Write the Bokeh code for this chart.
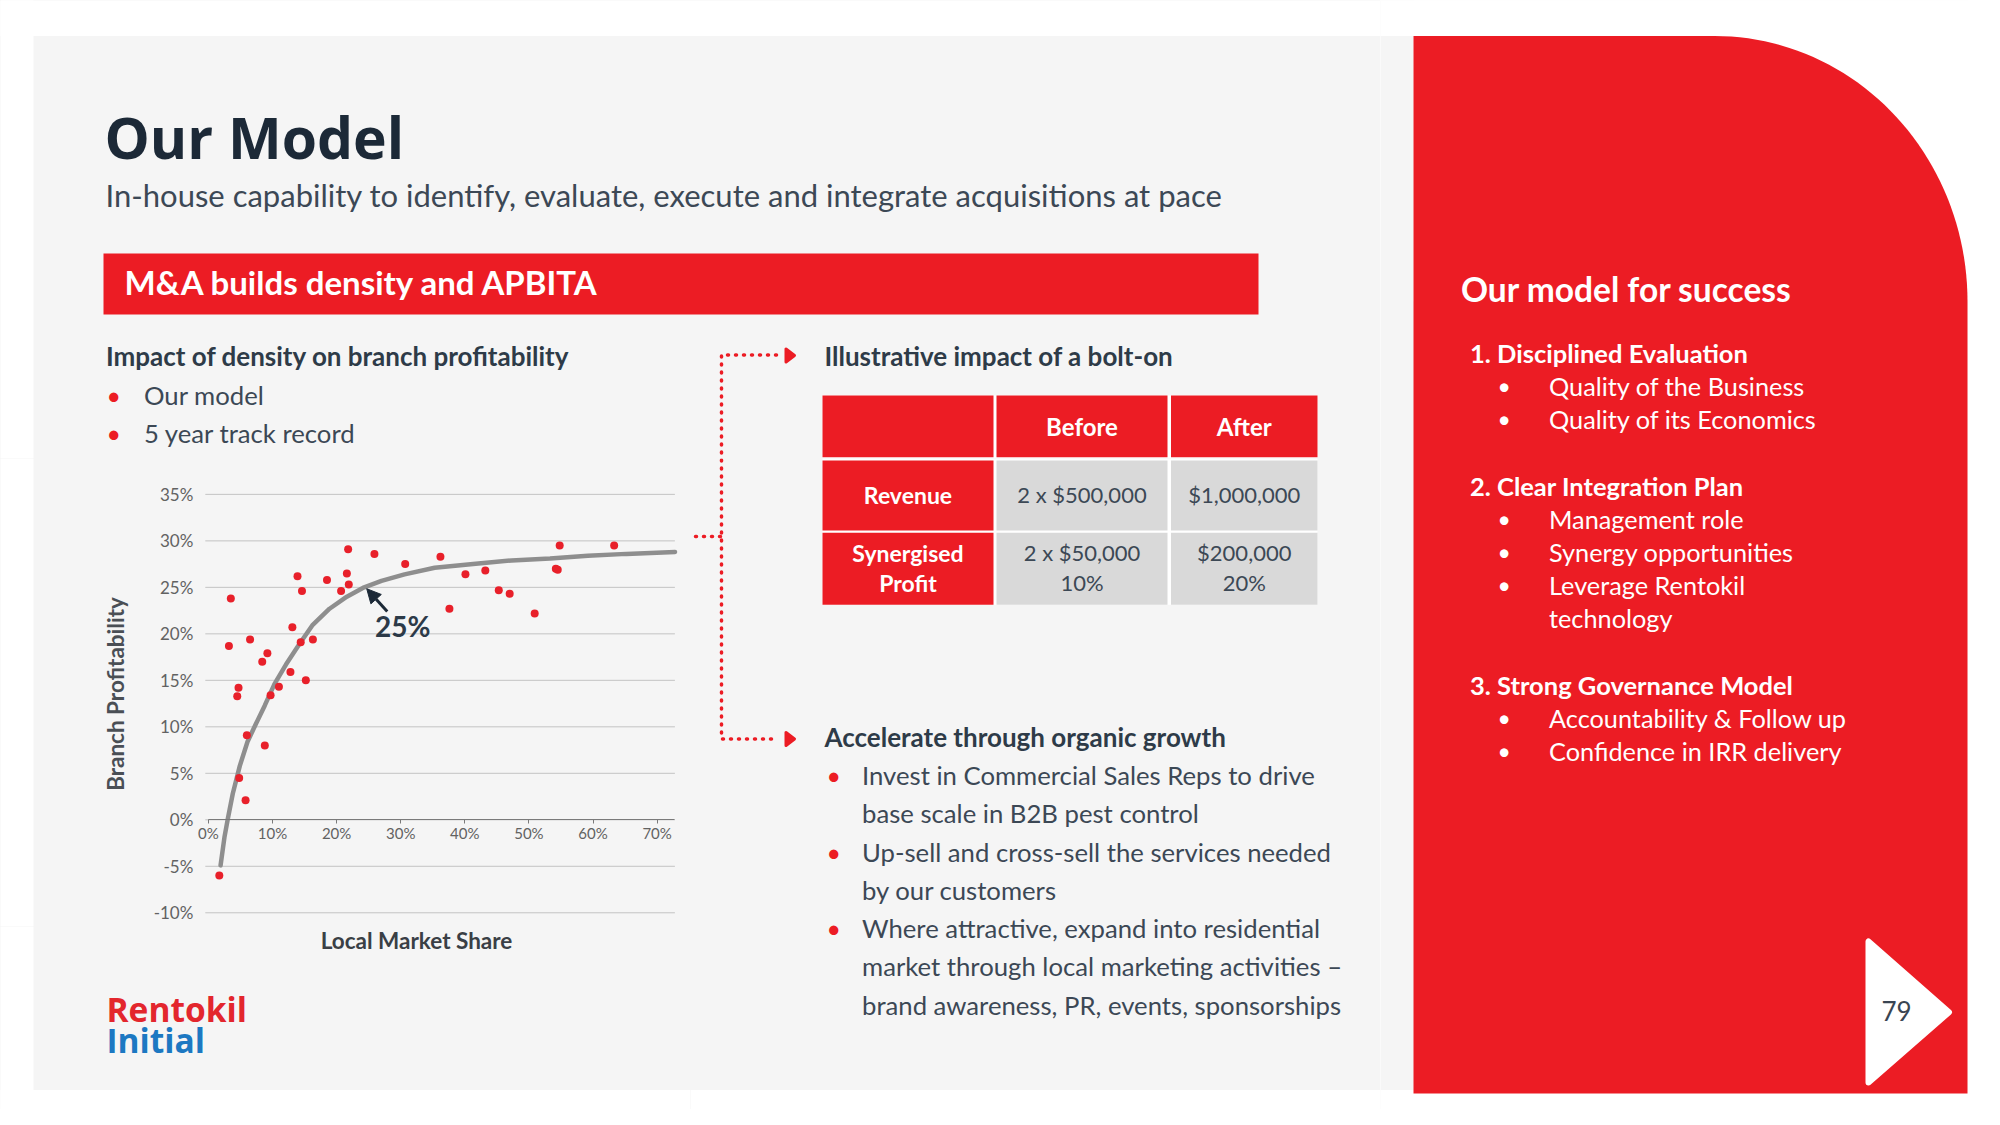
import numpy as np
from bokeh.plotting import figure
from bokeh.layouts import row, column
from bokeh.models import Range1d, FixedTicker, PrintfTickFormatter, Arrow, NormalHead
from bokeh.core.properties import value
from bokeh.embed import file_html
from bokeh.resources import INLINE

# ---------------- data ----------------
share = [1.7, 3.5, 3.2, 4.7, 4.5, 4.8, 5.8, 6.0, 6.5, 8.4, 8.8, 9.2, 9.7, 11.0, 12.8, 13.1,
         13.9, 14.4, 14.6, 15.2, 16.3, 18.5, 20.7, 21.6, 21.8, 21.9, 25.9, 30.7, 36.2, 37.6,
         40.1, 43.2, 45.3, 47.0, 50.9, 54.2, 54.5, 54.8, 63.3]
profit = [-6.0, 23.8, 18.7, 14.2, 13.3, 4.5, 2.1, 9.1, 19.4, 17.0, 8.0, 17.9, 13.4, 14.3, 15.9, 20.7,
          26.2, 19.1, 24.6, 15.0, 19.4, 25.8, 24.6, 26.5, 29.1, 25.3, 28.6, 27.5, 28.3, 22.7,
          26.4, 26.8, 24.7, 24.3, 22.2, 27.0, 26.9, 29.5, 29.5]
trend_x = [1.9, 2.5, 3.0, 3.8, 4.9, 6.1, 7.4, 8.8, 10.3, 12.1, 14.2, 16.2, 18.9, 21.6, 24.3,
           27.0, 30.6, 35.3, 41.3, 47.3, 53.3, 59.2, 65.2, 72.8]
trend_y = [-4.9, -1.9, 0.0, 2.8, 5.8, 8.4, 10.3, 12.3, 14.6, 16.7, 18.9, 20.9, 22.7, 24.0, 25.0,
           25.7, 26.4, 27.1, 27.5, 27.9, 28.1, 28.4, 28.6, 28.8]
x_ticks = [0, 10, 20, 30, 40, 50, 60, 70]
y_ticks = [-10, -5, 0, 5, 10, 15, 20, 25, 30, 35]
knee_label = "25%"
x_title = "Local Market Share"
y_title = "Branch Profitability"

title = "Our Model"
subtitle = "In-house capability to identify, evaluate, execute and integrate acquisitions at pace"
band_title = "M&A builds density and APBITA"
left_heading = "Impact of density on branch profitability"
left_bullets = ["Our model", "5 year track record"]
bolt_heading = "Illustrative impact of a bolt-on"
table_header = ["", "Before", "After"]
table_row_labels = [["Revenue"], ["Synergised", "Profit"]]
before_vals = [["2 x $500,000"], ["2 x $50,000", "10%"]]
after_vals = [["$1,000,000"], ["$200,000", "20%"]]
organic_heading = "Accelerate through organic growth"
organic_bullets = [
    ["Invest in Commercial Sales Reps to drive", "base scale in B2B pest control"],
    ["Up-sell and cross-sell the services needed", "by our customers"],
    ["Where attractive, expand into residential", "market through local marketing activities \u2013",
     "brand awareness, PR, events, sponsorships"],
]
panel_title = "Our model for success"
panel_sections = [
    ("1. Disciplined Evaluation", [["Quality of the Business"], ["Quality of its Economics"]]),
    ("2. Clear Integration Plan", [["Management role"], ["Synergy opportunities"],
                                   ["Leverage Rentokil", "technology"]]),
    ("3. Strong Governance Model", [["Accountability & Follow up"], ["Confidence in IRR delivery"]]),
]
page_number = "79"
logo_words = ["Rentokil", "Initial"]

# ---------------- style ----------------
RED = "#ec1c24"
GRAY_BG = "#f5f5f5"
CELL = "#d9d9d9"
TXT = "#3c4855"
DARK = "#1c2937"
HEAD = "#2e3b48"
BODY_FONT = "Lato"

# ---------------- text items in page coordinates (y = visual centre) ----------------
texts = []

def add_text(x, y, t, size, color=TXT, bold=False, font=BODY_FONT, align="left"):
    texts.append(dict(x=x, y=y - 1, t=t, size=size, color=color, bold=bold, font=font, align=align))

add_text(104, 137, title, 57, DARK, True, "Open Sans")
add_text(105, 195, subtitle, 31)
add_text(124, 282.5, band_title, 33, "white", True)
add_text(105.5, 356.5, left_heading, 26, HEAD, True)
for i, b in enumerate(left_bullets):
    yb = 395 + 38.5 * i
    add_text(106, yb, "\u2022", 25, RED)
    add_text(143.5, yb, b, 25.7)
add_text(824, 356, bolt_heading, 26, HEAD, True)
add_text(824, 737.3, organic_heading, 26, HEAD, True)
k = 0
for lines in organic_bullets:
    for j, ln in enumerate(lines):
        yb = 775.5 + 38.25 * k
        if j == 0:
            add_text(826, yb, "\u2022", 25, RED)
        add_text(861.5, yb, ln, 25.7)
        k += 1

add_text(1460.5, 289, panel_title, 33.5, "white", True)
k = 0
for head, items in panel_sections:
    add_text(1469.5, 353.3 + 33.2 * k, head, 25.5, "white", True)
    k += 1
    for item in items:
        for j, ln in enumerate(item):
            yb = 353.3 + 33.2 * k
            if j == 0:
                add_text(1497, yb, "\u2022", 23, "white")
            add_text(1548.5, yb, ln, 25.3, "white")
            k += 1
    k += 1
add_text(1896, 1011.7, page_number, 26, "#3a4552", align="center")
add_text(106, 1009, logo_words[0], 33.5, "#e3262d", True, "Open Sans")
add_text(106, 1040.5, logo_words[1], 33.5, "#1c78c2", True, "Open Sans")
add_text(416, 941, x_title, 22.5, "#3a3f45", True, "Lato", "center")

# table geometry
col_edges = [(822, 993), (996, 1167), (1170.5, 1317)]
row_edges = [(395, 456.7), (460, 530), (532.3, 604.3)]
for ci, h in enumerate(table_header):
    if h:
        cx = (col_edges[ci][0] + col_edges[ci][1]) / 2
        add_text(cx, 426.7, h, 24, "white", True, align="center")
for ri in range(len(table_row_labels)):
    r0, r1 = row_edges[ri + 1]
    cy = (r0 + r1) / 2
    for ci, cell in enumerate([table_row_labels[ri], before_vals[ri], after_vals[ri]]):
        cx = (col_edges[ci][0] + col_edges[ci][1]) / 2
        n = len(cell)
        for j, ln in enumerate(cell):
            yb = cy + (j - (n - 1) / 2) * 30
            if ci == 0:
                add_text(cx, yb, ln, 23, "white", True, align="center")
            else:
                add_text(cx, yb, ln, 22, TXT, False, align="center")


def draw_shapes(p):
    # white page margin around the slide panels (figure background is the panel grey)
    p.quad(left=[-20, -20, -20, 1967, 1413], right=[33, 2010, 2010, 2010, 2010],
           top=[-20, -20, 1089.5, -20, -20], bottom=[1130, 35.5, 1130, 1130, 301],
           color="white", line_color=None)
    t = np.linspace(np.pi / 2, 0, 48)
    cx, cy, rx, ry = 1714, 301, 253, 265.5
    xs = [1413] + list(cx + rx * np.cos(t)) + [1967, 1413]
    ys = [35.5] + list(cy - ry * np.sin(t)) + [1093, 1093]
    p.patch(xs, ys, color=RED, line_color=None)
    # band
    p.quad(left=[103], right=[1258], top=[253], bottom=[314], color=RED, line_color=None)
    # table
    p.quad(left=[822], right=[1317], top=[395], bottom=[604.3], color="white", line_color=None)
    for ri, (r0, r1) in enumerate(row_edges):
        for ci, (c0, c1) in enumerate(col_edges):
            fill = RED if (ri == 0 or ci == 0) else CELL
            p.quad(left=[c0], right=[c1], top=[r0], bottom=[r1], color=fill, line_color=None)
    # dotted connectors
    p.line([776, 721, 721, 777], [354.5, 354.5, 738.5, 738.5], line_color=RED, line_width=3.5,
           line_dash="1 7", line_cap="round")
    p.line([695, 721], [536, 536], line_color=RED, line_width=3.5, line_dash="1 7", line_cap="round")
    for yc in (355, 738.5):
        p.patch([785.5, 785.5, 794], [yc - 6.5, yc + 6.5, yc], color=RED, line_color=RED,
                line_width=3, line_join="round")
    # page number triangle
    p.patch([1868, 1868, 1948.5], [941, 1082, 1011.7], color="white", line_color="white",
            line_width=6, line_join="round")


def page_fig(x0, x1, y0, y1):
    p = figure(width=int(x1 - x0), height=int(y1 - y0), x_range=Range1d(x0, x1),
               y_range=Range1d(y1, y0), output_backend="svg", toolbar_location=None,
               x_axis_type=None, y_axis_type=None, min_border=0, outline_line_color=None,
               background_fill_color=GRAY_BG, border_fill_color=GRAY_BG)
    draw_shapes(p)
    for it in texts:
        if x0 <= it["x"] < x1 and y0 <= it["y"] < y1:
            p.text(x=[it["x"]], y=[it["y"]], text=[it["t"]], text_font=value(it["font"]),
                   text_font_size=f"{it['size']}px",
                   text_font_style="bold" if it["bold"] else "normal",
                   text_color=it["color"], text_align=it["align"], text_baseline="middle")
    return p


SPLIT_Y, SPLIT_X, CHART_BOTTOM, MID_X = 458, 1380, 926, 690
top_fig = page_fig(0, SPLIT_X, 0, SPLIT_Y)
left_fig = page_fig(0, 80, SPLIT_Y, CHART_BOTTOM)
bottom_left = page_fig(0, MID_X, CHART_BOTTOM, 1109)
mid_fig = page_fig(MID_X, SPLIT_X, SPLIT_Y, 1109)
right_fig = page_fig(SPLIT_X, 1984, 0, 1109)

# ---------------- scatter chart (frame fills its canvas) ----------------
PX_X, ZERO_X = 6.41, 207.9      # px per % and page x of 0%
PX_Y, ZERO_Y = 9.298, 819.3     # px per % and page y of 0%
sp = figure(width=MID_X - 80, height=CHART_BOTTOM - SPLIT_Y,
            x_range=Range1d((80 - ZERO_X) / PX_X, (MID_X - ZERO_X) / PX_X),
            y_range=Range1d((ZERO_Y - CHART_BOTTOM) / PX_Y, (ZERO_Y - SPLIT_Y) / PX_Y),
            output_backend="svg", toolbar_location=None, min_border=0,
            background_fill_color=GRAY_BG, border_fill_color=GRAY_BG, outline_line_color=None)
sp.xgrid.visible = False
sp.ygrid.visible = False
grid_lo, grid_hi = (204.8 - ZERO_X) / PX_X, (674.4 - ZERO_X) / PX_X
sp.segment(x0=grid_lo, x1=grid_hi, y0=y_ticks, y1=y_ticks, line_color="#c3c3c3", line_width=1)

sp.yaxis.fixed_location = grid_lo
sp.yaxis.bounds = (-10, 37)
sp.yaxis.ticker = FixedTicker(ticks=y_ticks)
sp.yaxis.formatter = PrintfTickFormatter(format="%d%%")
sp.yaxis.axis_line_color = None
sp.yaxis.major_tick_line_color = None
sp.yaxis.minor_tick_line_color = None
sp.yaxis.major_label_standoff = 6
sp.yaxis.major_label_text_font = "Lato"
sp.yaxis.major_label_text_font_size = "17px"
sp.yaxis.major_label_text_color = "#626262"
sp.yaxis.axis_label = y_title
sp.yaxis.axis_label_standoff = 22
sp.yaxis.axis_label_text_font = "Lato"
sp.yaxis.axis_label_text_font_size = "22.5px"
sp.yaxis.axis_label_text_font_style = "bold"
sp.yaxis.axis_label_text_color = "#4a4f55"

sp.xaxis.fixed_location = 0
sp.xaxis.bounds = (0, grid_hi)
sp.xaxis.ticker = FixedTicker(ticks=x_ticks)
sp.xaxis.formatter = PrintfTickFormatter(format="%d%%")
sp.xaxis.axis_line_color = "#7a7a7a"
sp.xaxis.axis_line_width = 1
sp.xaxis.major_tick_line_color = "#7a7a7a"
sp.xaxis.major_tick_in = 0
sp.xaxis.major_tick_out = 4
sp.xaxis.minor_tick_line_color = None
sp.xaxis.major_label_standoff = 0
sp.xaxis.major_label_text_font = "Lato"
sp.xaxis.major_label_text_font_size = "15px"
sp.xaxis.major_label_text_color = "#626262"

sp.line(trend_x, trend_y, line_color="#8e8e8e", line_width=4.5, line_cap="round")
sp.scatter(share, profit, size=8, color="#e8202a", line_color=None)
sp.add_layout(Arrow(end=NormalHead(size=14, fill_color=DARK, line_color=DARK),
                    x_start=27.9, y_start=22.4, x_end=24.7, y_end=24.85,
                    line_color=DARK, line_width=3))
sp.text(x=[30.3], y=[20.8], text=[knee_label], text_font=value("Lato"), text_font_size="28px",
        text_font_style="bold", text_color="#2c3a48", text_align="center", text_baseline="middle")

bg = {"background-color": GRAY_BG}
layout = row(
    column(top_fig,
           row(column(row(left_fig, sp, spacing=0, styles=bg), bottom_left, spacing=0, styles=bg),
               mid_fig, spacing=0, styles=bg),
           spacing=0, styles=bg),
    right_fig, spacing=0)

open("out.html", "w").write(file_html(layout, INLINE))
